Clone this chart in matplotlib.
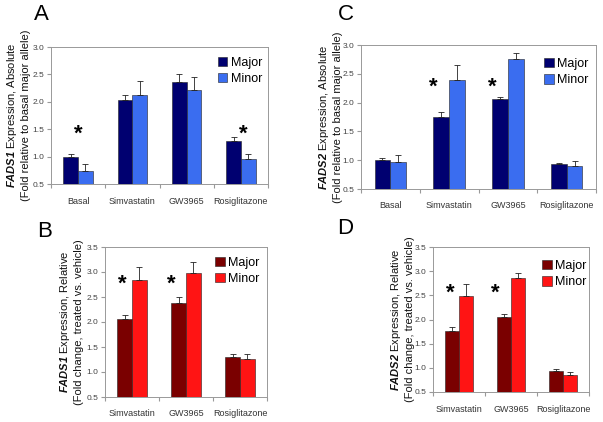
import numpy as np
import matplotlib.pyplot as plt

plt.rcParams['font.family'] = ['Liberation Sans', 'DejaVu Sans']
plt.rcParams['mathtext.fontset'] = 'custom'
plt.rcParams['mathtext.rm'] = 'Liberation Sans'
plt.rcParams['mathtext.bf'] = 'Liberation Sans:bold'
plt.rcParams['mathtext.it'] = 'Liberation Sans:italic'
plt.rcParams['mathtext.bfit'] = 'Liberation Sans:bold:italic'

# panel A / C: absolute expression
cats_abs = ['Basal', 'Simvastatin', 'GW3965', 'Rosiglitazone']
a_major = [1.00, 2.04, 2.36, 1.29]
a_major_err = [0.05, 0.09, 0.14, 0.07]
a_minor = [0.74, 2.12, 2.22, 0.95]
a_minor_err = [0.12, 0.26, 0.24, 0.10]
a_stars = [(0.0, 1.40), (3.05, 1.40)]

c_major = [1.00, 1.75, 2.06, 0.93]
c_major_err = [0.03, 0.08, 0.04, 0.03]
c_minor = [0.97, 2.40, 2.75, 0.90]
c_minor_err = [0.12, 0.25, 0.11, 0.08]
c_stars = [(0.73, 2.26), (1.73, 2.26)]

# panel B / D: relative expression
cats_rel = ['Simvastatin', 'GW3965', 'Rosiglitazone']
b_major = [2.07, 2.38, 1.30]
b_major_err = [0.08, 0.12, 0.06]
b_minor = [2.85, 2.98, 1.27]
b_minor_err = [0.25, 0.23, 0.09]
b_stars = [(-0.18, 2.75), (0.72, 2.75)]

d_major = [1.76, 2.06, 0.94]
d_major_err = [0.08, 0.05, 0.03]
d_minor = [2.48, 2.85, 0.86]
d_minor_err = [0.25, 0.12, 0.06]
d_stars = [(-0.16, 2.54), (0.70, 2.54)]

blue = ('#000070', '#3a6df0')
red = ('#7a0000', '#ff1414')
W, H = 603, 422


def panel(rect, cats, major, major_err, minor, minor_err, stars, colors,
          ymax, gene, kind, sub, label_x, leg_xy, letter, letter_xy):
    l, r, t, b = rect
    ax = fig.add_axes([l / W, 1 - b / H, (r - l) / W, (b - t) / H])
    x = np.arange(len(cats))
    w = 0.27
    ax.bar(x - w / 2, major, w, color=colors[0], edgecolor='#222222', lw=0.4, label='Major', zorder=2)
    ax.bar(x + w / 2, minor, w, color=colors[1], edgecolor='#222222', lw=0.4, label='Minor', zorder=2)
    ax.errorbar(x - w / 2, major, yerr=[np.zeros(len(x)), major_err], fmt='none',
                ecolor='#222222', elinewidth=0.6, capsize=2, capthick=0.6, zorder=3)
    ax.errorbar(x + w / 2, minor, yerr=[np.zeros(len(x)), minor_err], fmt='none',
                ecolor='#222222', elinewidth=0.6, capsize=2, capthick=0.6, zorder=3)
    for sx, sy in stars:
        ax.text(sx, sy, '*', ha='center', va='center', fontsize=16, fontweight='bold')
    ax.set_xlim(-0.5, len(cats) - 0.5)
    ax.set_ylim(0.5, ymax)
    yt = np.arange(0.5, ymax + 0.01, 0.5)
    ax.set_yticks(yt)
    ax.set_yticklabels(['%.1f' % v for v in yt])
    ax.set_xticks(np.arange(-0.5, len(cats), 1.0))
    ax.set_xticklabels([])
    ax.set_xticks(x, minor=True)
    ax.set_xticklabels(cats, minor=True)
    ax.tick_params(axis='x', which='minor', length=0, labelsize=6.5, pad=9, colors='#333333')
    ax.tick_params(axis='x', which='major', length=3, color='#999999')
    ax.tick_params(axis='y', length=3, pad=2, labelsize=6, color='#999999', labelcolor='#444444')
    for s in ax.spines.values():
        s.set_color('#999999')
        s.set_linewidth(0.7)
    fig.text(label_x / W, 1 - (t + b) / 2 / H,
             r'$\mathbfit{%s}$ Expression, %s' % (gene, kind) + '\n' + sub,
             rotation=90, ha='center', va='center', fontsize=8, linespacing=1.3,
             color='#111111')
    ax.legend(loc='upper left', frameon=False, fontsize=9, handlelength=0.75,
              handleheight=0.75, handletextpad=0.25, labelspacing=0.35,
              borderpad=0, borderaxespad=0, bbox_to_anchor=leg_xy)
    fig.text(letter_xy[0] / W, 1 - letter_xy[1] / H, letter, fontsize=16,
             ha='center', va='center')
    return ax


fig = plt.figure(figsize=(6.03, 4.22), dpi=100)

panel((51, 268, 47, 184), cats_abs, a_major, a_major_err, a_minor, a_minor_err,
      a_stars, blue, 3.0, 'FADS1', 'Absolute',
      '(Fold relative to basal major allele)', 18, (0.77, 0.93), 'A', (41, 15))
panel((361, 596, 45, 189), cats_abs, c_major, c_major_err, c_minor, c_minor_err,
      c_stars, blue, 3.0, 'FADS2', 'Absolute',
      '(Fold relative to basal major allele)', 330, (0.78, 0.91), 'C', (346, 15))
panel((105, 267, 247, 397), cats_rel, b_major, b_major_err, b_minor, b_minor_err,
      b_stars, red, 3.5, 'FADS1', 'Relative',
      '(Fold change, treated vs. vehicle)', 71, (0.68, 0.935), 'B', (45, 231))
panel((433, 589, 247, 392), cats_rel, d_major, d_major_err, d_minor, d_minor_err,
      d_stars, red, 3.5, 'FADS2', 'Relative',
      '(Fold change, treated vs. vehicle)', 402, (0.70, 0.91), 'D', (345, 228))

fig.savefig('out.png', dpi=100)
